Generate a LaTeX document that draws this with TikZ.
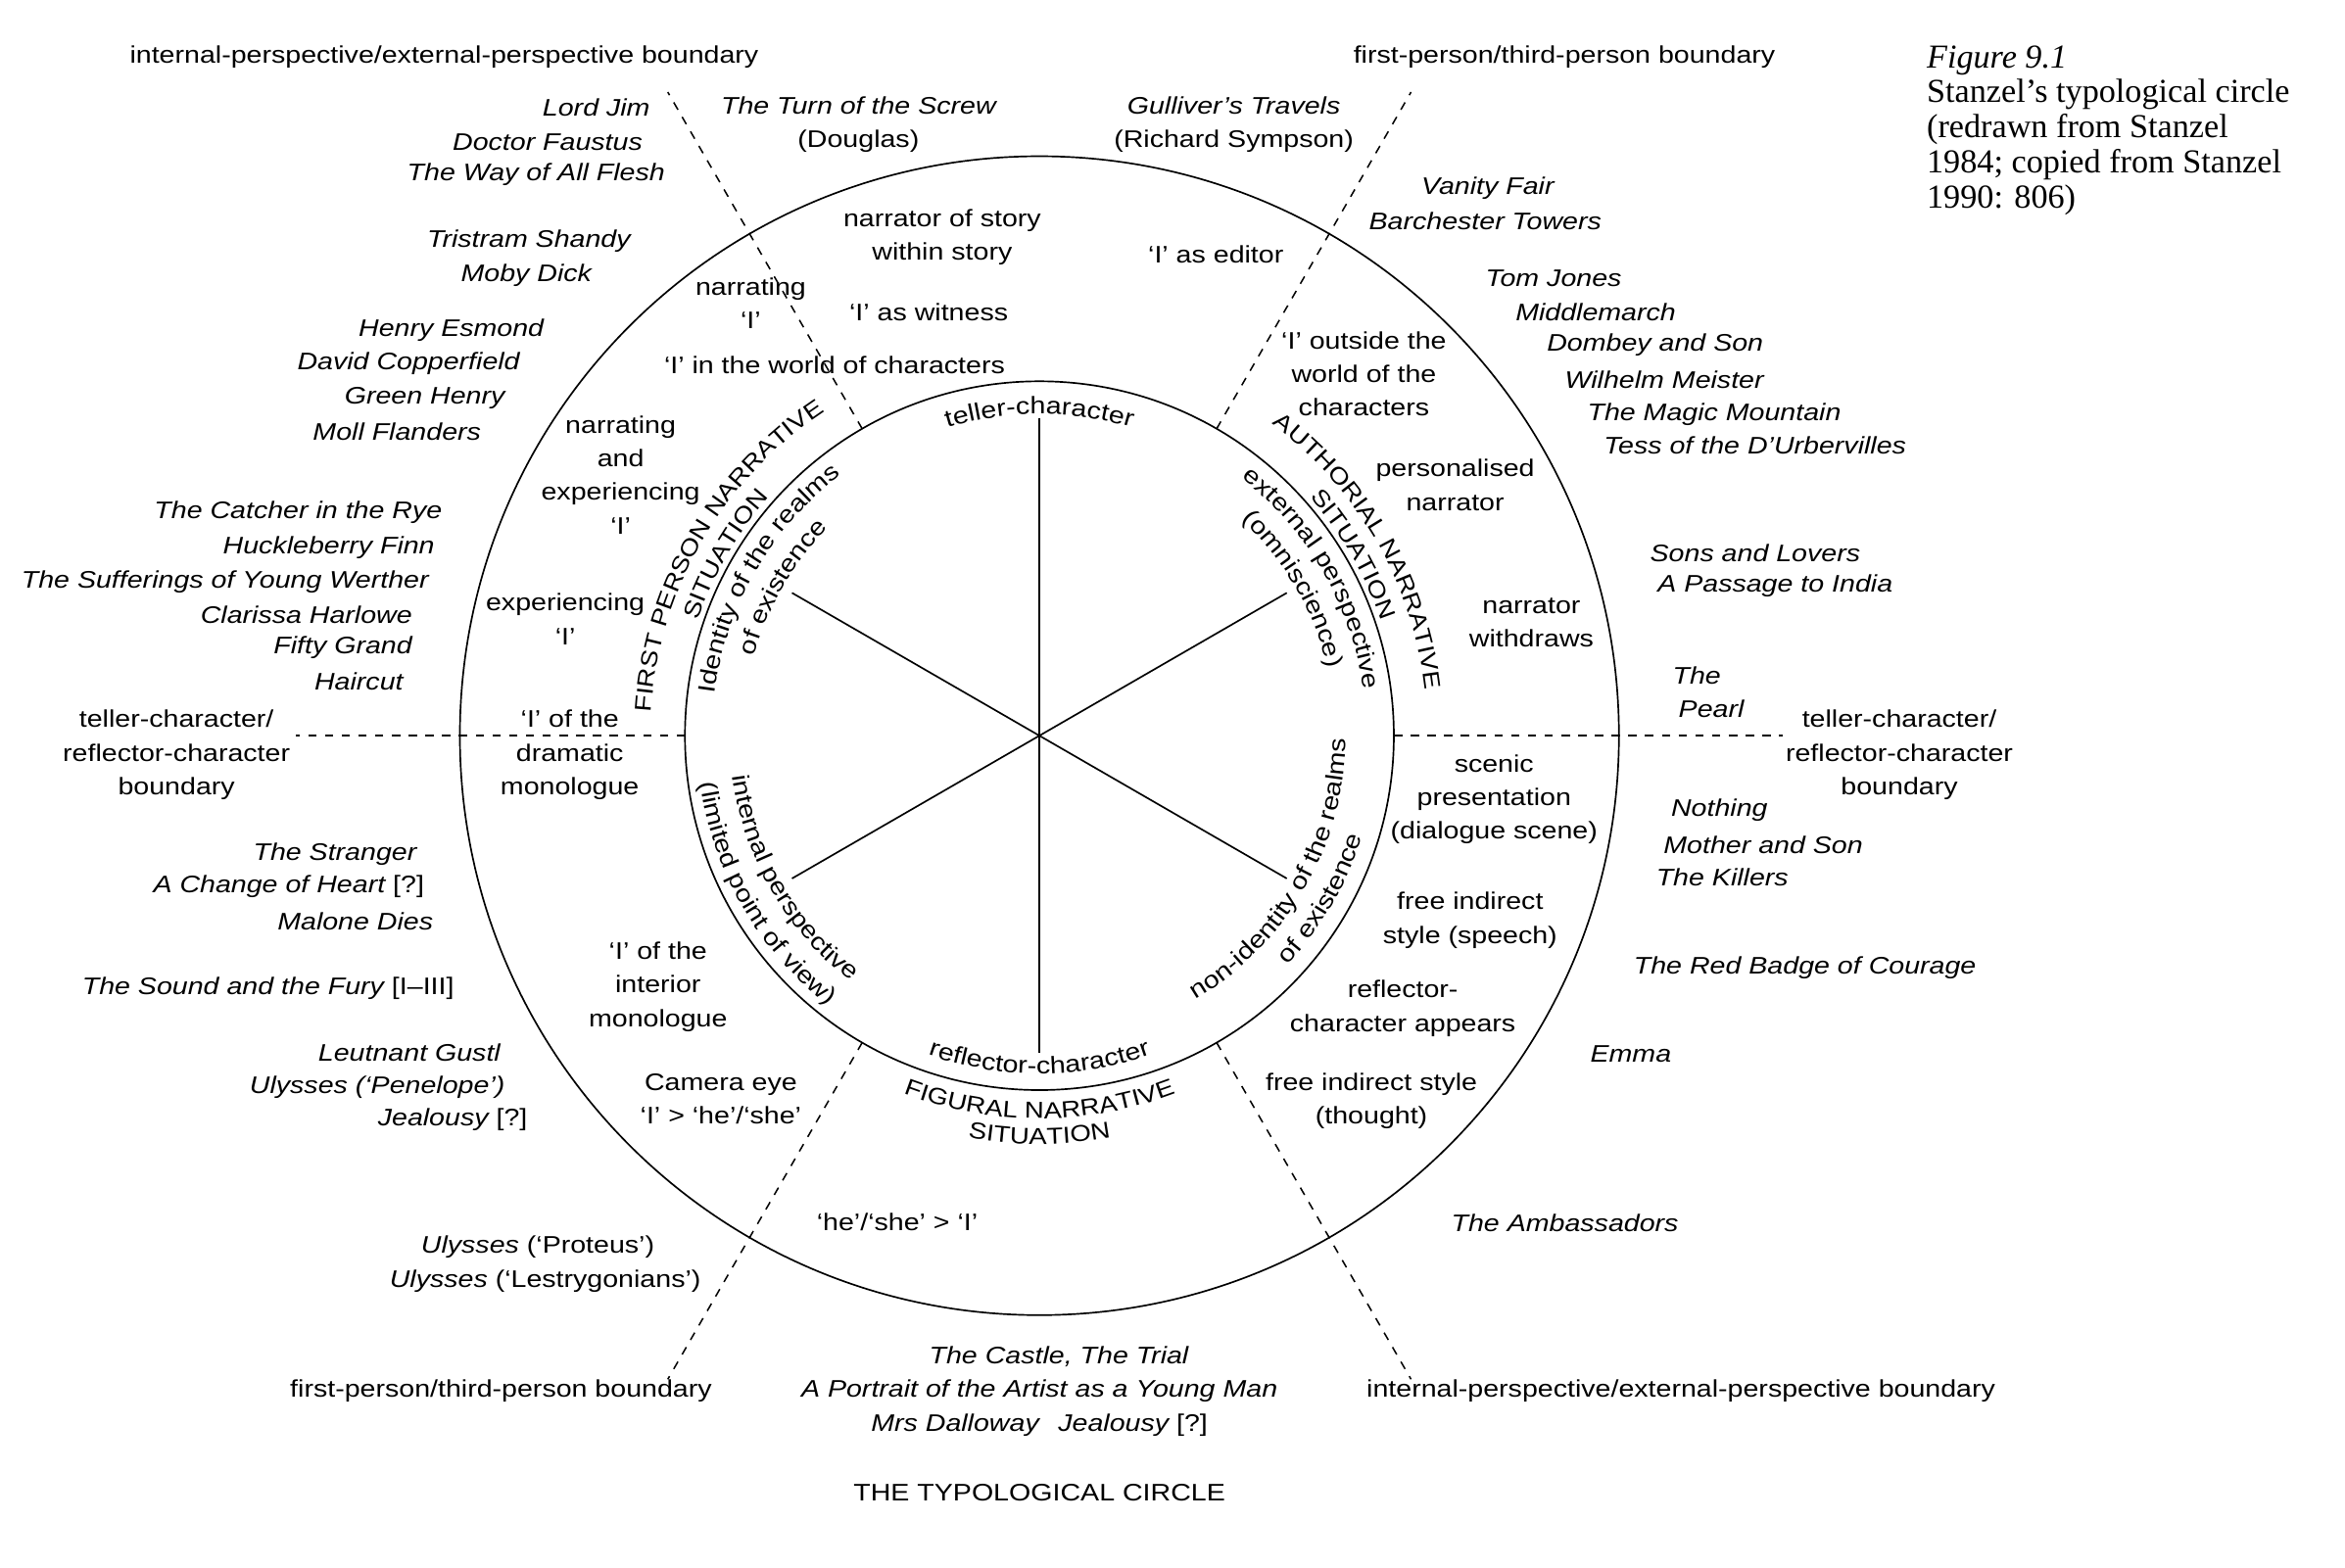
\documentclass[tikz,border=0pt]{standalone}
\usepackage{fontspec}
\setmainfont[FakeStretch=1.17]{Liberation Sans}
\newfontfamily\capfont{Liberation Serif}
\usetikzlibrary{decorations.text}
\newcommand\sitfont{\fontsize{7.7pt}{9pt}\selectfont}
\AtBeginDocument{\fontsize{8pt}{11.25pt}\selectfont}

\begin{document}
\begin{tikzpicture}[>=latex,line join=bevel,x=0.5pt,y=0.5pt,
    lbl/.style={inner sep=0pt,align=center},
    book/.style={inner sep=0pt,font=\itshape},
    ring/.style={line width=0.55pt},
    spoke/.style={line width=0.55pt},
    bnd/.style={line width=0.5pt,dash pattern=on 2.8pt off 2.8pt},
    arctext/.style={decorate,decoration={text along path,text align=center,text={#1}}},
    sitarc/.style={decorate,decoration={text along path,text align=center,text={|\sitfont|#1}}},
  ]
    %%
    \useasboundingbox (0,0) rectangle (1568,1048);
    \coordinate (ctr) at (695,556);
    \draw [ring] (ctr) circle [radius=387.5];
    \draw [ring] (ctr) circle [radius=237];
    \foreach \a/\r in {90/212,270/212,30/191,150/191,210/191,330/191}
      \draw [spoke] (ctr) -- ([shift={(\a:\r)}]ctr);
    \foreach \a in {0,60,...,300}
      \draw [bnd] ([shift={(\a:237)}]ctr) -- ([shift={(\a:497)}]ctr);
    %% curved texts
    \path [arctext={teller-character}] ([shift={(150:215)}]ctr) arc [start angle=150,end angle=30,radius=215];
    \path [arctext={reflector-character}] ([shift={(210:226)}]ctr) arc [start angle=210,end angle=330,radius=226];
    \path [sitarc={FIGURAL NARRATIVE}] ([shift={(210:256)}]ctr) arc [start angle=210,end angle=330,radius=256];
    \path [sitarc={SITUATION}] ([shift={(210:273)}]ctr) arc [start angle=210,end angle=330,radius=273];
    \path [sitarc={FIRST PERSON NARRATIVE}] ([shift={(210:260)}]ctr) arc [start angle=210,end angle=90,radius=260];
    \path [sitarc={SITUATION}] ([shift={(210:241)}]ctr) arc [start angle=210,end angle=90,radius=241];
    \path [sitarc={AUTHORIAL NARRATIVE}] ([shift={(90:260)}]ctr) arc [start angle=90,end angle=-30,radius=260];
    \path [sitarc={SITUATION}] ([shift={(90:241)}]ctr) arc [start angle=90,end angle=-30,radius=241];
    \path [arctext={Identity of the realms}] ([shift={(210:219)}]ctr) arc [start angle=210,end angle=90,radius=219];
    \path [arctext={of existence}] ([shift={(210:198)}]ctr) arc [start angle=210,end angle=90,radius=198];
    \path [arctext={external perspective}] ([shift={(90:219)}]ctr) arc [start angle=90,end angle=-30,radius=219];
    \path [arctext={(omniscience)}] ([shift={(90:198)}]ctr) arc [start angle=90,end angle=-30,radius=198];
    \path [arctext={internal perspective}] ([shift={(150:207)}]ctr) arc [start angle=150,end angle=270,radius=207];
    \path [arctext={(limited point of view)}] ([shift={(150:229)}]ctr) arc [start angle=150,end angle=270,radius=229];
    \path [arctext={non-identity of the realms}] ([shift={(-90:205)}]ctr) arc [start angle=-90,end angle=30,radius=205];
    \path [arctext={of existence}] ([shift={(-90:226)}]ctr) arc [start angle=-90,end angle=30,radius=226];
    %% boundary labels
    \node (bndtl) at (297,1010) [lbl] {internal-perspective/external-perspective boundary};
    \node (bndtr) at (1046,1010) [lbl] {first-person/third-person boundary};
    \node (bndl) at (118,543) [lbl] {teller-character/\\reflector-character\\boundary};
    \node (bndr) at (1270,543) [lbl] {teller-character/\\reflector-character\\boundary};
    \node (bndbl) at (335,118) [lbl] {first-person/third-person boundary};
    \node (bndbr) at (1124,118) [lbl] {internal-perspective/external-perspective boundary};
    \node (title) at (695,50) [lbl] {THE TYPOLOGICAL CIRCLE};
    \node (cap) at (1288,1018) [anchor=north west,inner sep=0pt,align=left,
      font=\capfont\fontsize{11.2pt}{11.75pt}\selectfont]
      {\textit{Figure 9.1}\\Stanzel’s typological circle\\(redrawn from Stanzel\\1984; copied from Stanzel\\1990: 806)};
    %% works, left side
    \node (lordjim) at (435,976) [book,anchor=east] {Lord Jim};
    \node (faustus) at (430,953) [book,anchor=east] {Doctor Faustus};
    \node (flesh) at (445,931) [book,anchor=east] {The Way of All Flesh};
    \node (shandy) at (422,887) [book,anchor=east] {Tristram Shandy};
    \node (moby) at (396,864) [book,anchor=east] {Moby Dick};
    \node (esmond) at (364,827) [book,anchor=east] {Henry Esmond};
    \node (copper) at (348,805) [book,anchor=east] {David Copperfield};
    \node (green) at (338,782) [book,anchor=east] {Green Henry};
    \node (moll) at (322,759) [book,anchor=east] {Moll Flanders};
    \node (catcher) at (296,705) [book,anchor=east] {The Catcher in the Rye};
    \node (huck) at (291,682) [book,anchor=east] {Huckleberry Finn};
    \node (werther) at (287,659) [book,anchor=east] {The Sufferings of Young Werther};
    \node (clarissa) at (276,637) [book,anchor=east] {Clarissa Harlowe};
    \node (fifty) at (276,615) [book,anchor=east] {Fifty Grand};
    \node (haircut) at (270,592) [book,anchor=east] {Haircut};
    \node (stranger) at (279,477) [book,anchor=east] {The Stranger};
    \node (change) at (284,455) [lbl,anchor=east] {{\itshape A Change of Heart} [?]};
    \node (malone) at (290,432) [book,anchor=east] {Malone Dies};
    \node (sound) at (304,387) [lbl,anchor=east] {{\itshape The Sound and the Fury} [I–III]};
    \node (gustl) at (335,344) [book,anchor=east] {Leutnant Gustl};
    \node (penelope) at (338,321) [book,anchor=east] {Ulysses (‘Penelope’)};
    \node (jeal) at (353,299) [lbl,anchor=east] {{\itshape Jealousy} [?]};
    \node (proteus) at (438,214) [lbl,anchor=east] {{\itshape Ulysses} (‘Proteus’)};
    \node (lestry) at (469,191) [lbl,anchor=east] {{\itshape Ulysses} (‘Lestrygonians’)};
    %% works, bottom
    \node (castle) at (708,141) [book] {The Castle, The Trial};
    \node (portrait) at (695,118) [book] {A Portrait of the Artist as a Young Man};
    \node (dalloway) at (695,95) [lbl] {{\itshape Mrs Dalloway}\hspace{0.8em}{\itshape Jealousy} [?]};
    %% works, right side
    \node (screw) at (574,964.5) [lbl] {{\itshape The Turn of the Screw}\\(Douglas)};
    \node (gulliver) at (825,964.5) [lbl] {{\itshape Gulliver’s Travels}\\(Richard Sympson)};
    \node (vanity) at (950,922) [book,anchor=west] {Vanity Fair};
    \node (barchester) at (915,900) [book,anchor=west] {Barchester Towers};
    \node (tomjones) at (993,862) [book,anchor=west] {Tom Jones};
    \node (middle) at (1013,839) [book,anchor=west] {Middlemarch};
    \node (dombey) at (1034,817) [book,anchor=west] {Dombey and Son};
    \node (wilhelm) at (1046,794) [book,anchor=west] {Wilhelm Meister};
    \node (magic) at (1061,771) [book,anchor=west] {The Magic Mountain};
    \node (tess) at (1072,750) [book,anchor=west] {Tess of the D’Urbervilles};
    \node (sons) at (1103,678) [book,anchor=west] {Sons and Lovers};
    \node (passage) at (1108,656) [book,anchor=west] {A Passage to India};
    \node (the) at (1118,596) [book,anchor=west] {The};
    \node (pearl) at (1122,574) [book,anchor=west] {Pearl};
    \node (nothing) at (1117,506) [book,anchor=west] {Nothing};
    \node (mother) at (1112,483) [book,anchor=west] {Mother and Son};
    \node (killers) at (1107,461) [book,anchor=west] {The Killers};
    \node (badge) at (1092,401) [book,anchor=west] {The Red Badge of Courage};
    \node (emma) at (1063,343) [book,anchor=west] {Emma};
    \node (ambass) at (970,230) [book,anchor=west] {The Ambassadors};
    %% ring labels
    \node (story) at (630,889.5) [lbl] {narrator of story\\within story};
    \node (editor) at (813,878) [lbl] {‘I’ as editor};
    \node (narr) at (502,845) [lbl] {narrating\\‘I’};
    \node (witness) at (621,839) [lbl] {‘I’ as witness};
    \node (world) at (558,804) [lbl] {‘I’ in the world of characters};
    \node (outside) at (912,798) [lbl] {‘I’ outside the\\world of the\\characters};
    \node (narrexp) at (415,730.5) [lbl] {narrating\\and\\experiencing\\‘I’};
    \node (person) at (973,723.5) [lbl] {personalised\\narrator};
    \node (exp) at (378,634) [lbl] {experiencing\\‘I’};
    \node (withdr) at (1024,631.5) [lbl] {narrator\\withdraws};
    \node (dramat) at (381,543) [lbl] {‘I’ of the\\dramatic\\monologue};
    \node (scenic) at (999,513.5) [lbl] {scenic\\presentation\\(dialogue scene)};
    \node (speech) at (983,432.5) [lbl] {free indirect\\style (speech)};
    \node (interior) at (440,388) [lbl] {‘I’ of the\\interior\\monologue};
    \node (appears) at (938,373.5) [lbl] {reflector-\\character appears};
    \node (camera) at (482,313) [lbl] {Camera eye\\‘I’ > ‘he’/‘she’};
    \node (thought) at (917,311.5) [lbl] {free indirect style\\(thought)};
    \node (hesheI) at (600,231) [lbl] {‘he’/‘she’ > ‘I’};
    %
\end{tikzpicture}
\end{document}
